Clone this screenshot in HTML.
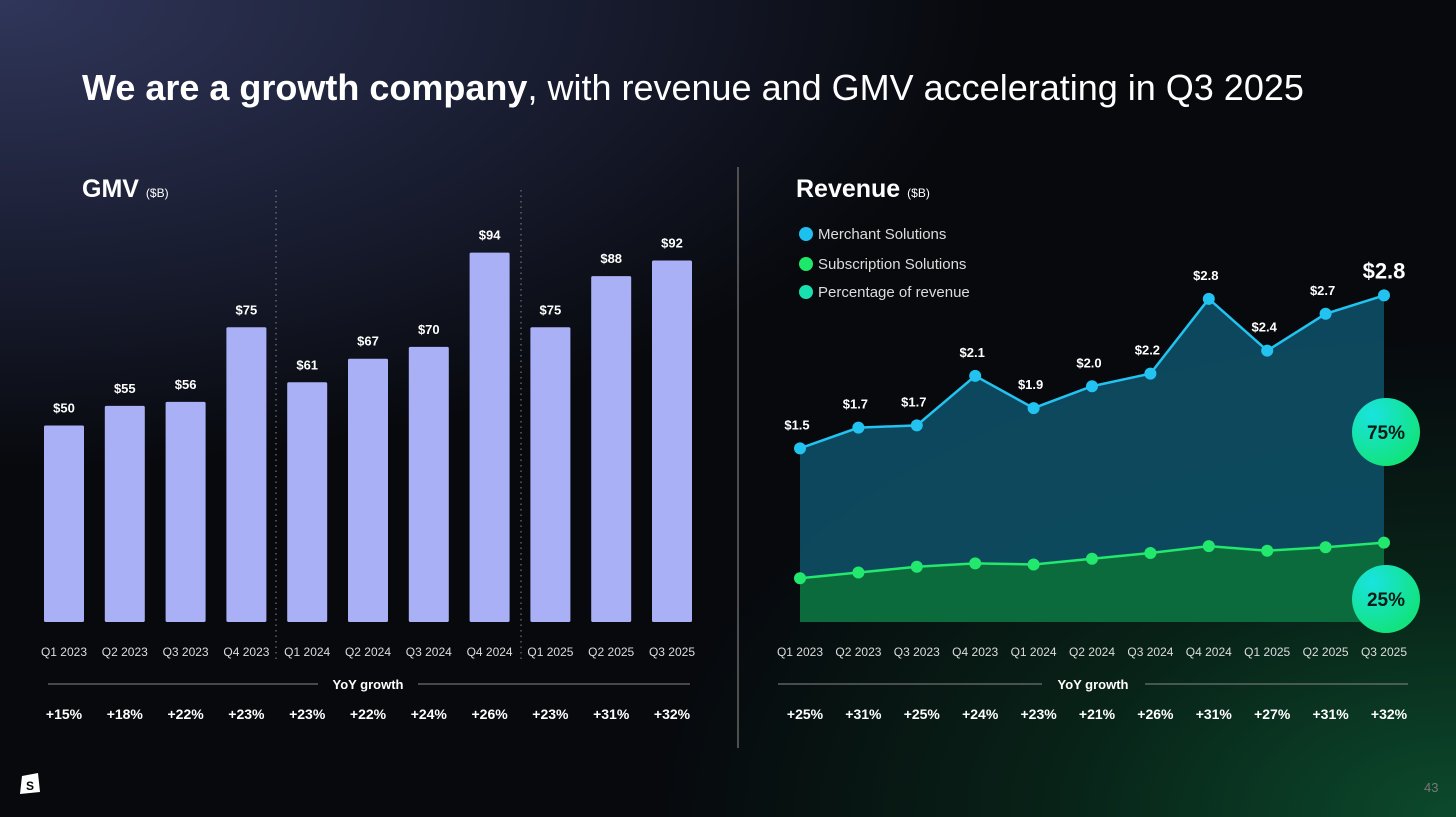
<!DOCTYPE html>
<html><head><meta charset="utf-8"><style>
body{margin:0;width:1456px;height:817px;overflow:hidden;font-family:"Liberation Sans",Arial,sans-serif;}
#bg{position:absolute;left:0;top:0;width:1456px;height:817px;
background:radial-gradient(ellipse 1000px 600px at 1456px 817px,#0c4a2c 0%,rgba(8,45,28,0.7) 40%,rgba(0,0,0,0) 80%),radial-gradient(ellipse 1100px 520px at 0px 0px,#30365a 0%,#1c2036 45%,rgba(10,12,20,0) 90%),#07090d;}
svg{position:absolute;left:0;top:0}
</style></head><body>
<div id="bg"></div>
<svg id="s" width="1456" height="817">
<defs>
<radialGradient id="pg" cx="30%" cy="25%" r="80%"><stop offset="0" stop-color="#19e3e0"/><stop offset="1" stop-color="#12e37a"/></radialGradient>
</defs>
<text x="82" y="100" fill="#fff" font-size="36"><tspan font-weight="bold">We are a growth company</tspan>, with revenue and GMV accelerating in Q3 2025</text>
<text x="82" y="197" fill="#fff" font-size="25" font-weight="bold">GMV <tspan font-size="12" font-weight="normal">($B)</tspan></text>
<text x="796" y="197" fill="#fff" font-size="25" font-weight="bold">Revenue <tspan font-size="12" font-weight="normal">($B)</tspan></text>
<line x1="738" y1="167" x2="738" y2="748" stroke="#666" stroke-width="1.5"/>
<line x1="276" y1="190" x2="276" y2="662" stroke="#888" stroke-dasharray="1.5 4"/>
<line x1="521" y1="190" x2="521" y2="662" stroke="#888" stroke-dasharray="1.5 4"/>
<g id="gmv"></g><g id="rev"></g>
<g>
<circle cx="806" cy="234" r="7" fill="#1ec0f0"/><text x="818" y="239" fill="#ddd" font-size="15">Merchant Solutions</text>
<circle cx="806" cy="264" r="7" fill="#1de86a"/><text x="818" y="269" fill="#ddd" font-size="15">Subscription Solutions</text>
<circle cx="806" cy="292" r="7" fill="#19e0b0"/><text x="818" y="297" fill="#ddd" font-size="15">Percentage of revenue</text>
</g>
<g><path d="M22 776 L38 773 L40 792 L20 794 Z" fill="#fff"/><text x="26" y="790" font-size="12" font-weight="bold" fill="#000">S</text></g>
<text x="1424" y="792" fill="#777" font-size="13">43</text>
</svg>
<script>
const gmvCats=["Q1 2023","Q2 2023","Q3 2023","Q4 2023","Q1 2024","Q2 2024","Q3 2024","Q4 2024","Q1 2025","Q2 2025","Q3 2025"];
const gmvVals=[50,55,56,75,61,67,70,94,75,88,92];
const gmvYoY=["+15%","+18%","+22%","+23%","+23%","+22%","+24%","+26%","+23%","+31%","+32%"];
const revCats=gmvCats;
const revTotal=[1.51,1.69,1.71,2.14,1.86,2.05,2.16,2.81,2.36,2.68,2.84];
const revLabels=["$1.5","$1.7","$1.7","$2.1","$1.9","$2.0","$2.2","$2.8","$2.4","$2.7","$2.8"];
const subVals=[0.38,0.43,0.48,0.51,0.50,0.55,0.60,0.66,0.62,0.65,0.69];
const revYoY=["+25%","+31%","+25%","+24%","+23%","+21%","+26%","+31%","+27%","+31%","+32%"];
const NS="http://www.w3.org/2000/svg";
function mk(p,t,a,txt){const e=document.createElementNS(NS,t);for(const k in a)e.setAttribute(k,a[k]);if(txt!==undefined)e.textContent=txt;p.appendChild(e);return e;}
const g=document.getElementById('gmv');
const gx=i=>64+i*60.8, gy=v=>622-3.93*v;
gmvVals.forEach((v,i)=>{
 const r=mk(g,'rect',{x:gx(i)-20,y:gy(v),width:40,height:622-gy(v),fill:'#a9b0f5',rx:1.5});
 
 
 const t=mk(g,'text',{x:gx(i),y:gy(v)-13,fill:'#fff','font-size':13,'font-weight':'bold','text-anchor':'middle'},'$'+v);
 
 
 const c=mk(g,'text',{x:gx(i),y:656,fill:'#ddd','font-size':12,'text-anchor':'middle'},gmvCats[i]);
 
 
 const y=mk(g,'text',{x:gx(i),y:719,fill:'#fff','font-size':14,'font-weight':'bold','text-anchor':'middle'},gmvYoY[i]);
 
 
});
mk(g,'line',{x1:48,y1:684,x2:318,y2:684,stroke:'#888'});
mk(g,'line',{x1:418,y1:684,x2:690,y2:684,stroke:'#888'});
const gl=mk(g,'text',{x:368,y:689,fill:'#fff','font-size':13,'font-weight':'bold','text-anchor':'middle'},'YoY growth');


const R=document.getElementById('rev');
const rx=i=>800+i*58.4, ry=v=>622-115*v;
const n=revTotal.length;
const topPts=revTotal.map((v,i)=>rx(i)+','+ry(v)).join(' ');
const subPts=subVals.map((v,i)=>rx(i)+','+ry(v)).join(' ');
const a1=mk(R,'polygon',{points:topPts+' '+subVals.map((v,i)=>rx(i)+','+ry(v)).reverse().join(' '),fill:'#0e4f66','fill-opacity':0.9});


const a2=mk(R,'polygon',{points:subPts+' '+rx(n-1)+',622 '+rx(0)+',622',fill:'#0b6b3c'});


const l1=mk(R,'polyline',{points:topPts,fill:'none',stroke:'#22c3f0','stroke-width':2.5});


const l2=mk(R,'polyline',{points:subPts,fill:'none',stroke:'#22e86e','stroke-width':2.5});


revTotal.forEach((v,i)=>{
 const p=mk(R,'circle',{cx:rx(i),cy:ry(v),r:6,fill:'#22c3f0'});
 
 
 const q=mk(R,'circle',{cx:rx(i),cy:ry(subVals[i]),r:6,fill:'#22e86e'});
 
 
 const last=i===n-1;
 const t=mk(R,'text',{x:rx(i)-(last?0:3),y:ry(v)-(last?17:19),fill:'#fff','font-size':last?22:13,'font-weight':'bold','text-anchor':'middle'},revLabels[i]);
 
 
 const c=mk(R,'text',{x:rx(i),y:656,fill:'#ddd','font-size':12,'text-anchor':'middle'},revCats[i]);
 
 
 const y=mk(R,'text',{x:rx(i)+5,y:719,fill:'#fff','font-size':14,'font-weight':'bold','text-anchor':'middle'},revYoY[i]);
 
 
});
[[432,'75%'],[599,'25%']].forEach(([cy,s])=>{
 const c=mk(R,'circle',{cx:1386,cy:cy,r:34,fill:'url(#pg)'});
 
 
 const t=mk(R,'text',{x:1386,y:cy+7,fill:'#0a1a14','font-size':19,'font-weight':'bold','text-anchor':'middle'},s);
 
 
});
mk(R,'line',{x1:778,y1:684,x2:1042,y2:684,stroke:'#888'});
mk(R,'line',{x1:1145,y1:684,x2:1408,y2:684,stroke:'#888'});
const rl=mk(R,'text',{x:1093,y:689,fill:'#fff','font-size':13,'font-weight':'bold','text-anchor':'middle'},'YoY growth');


</script>
</body></html>
